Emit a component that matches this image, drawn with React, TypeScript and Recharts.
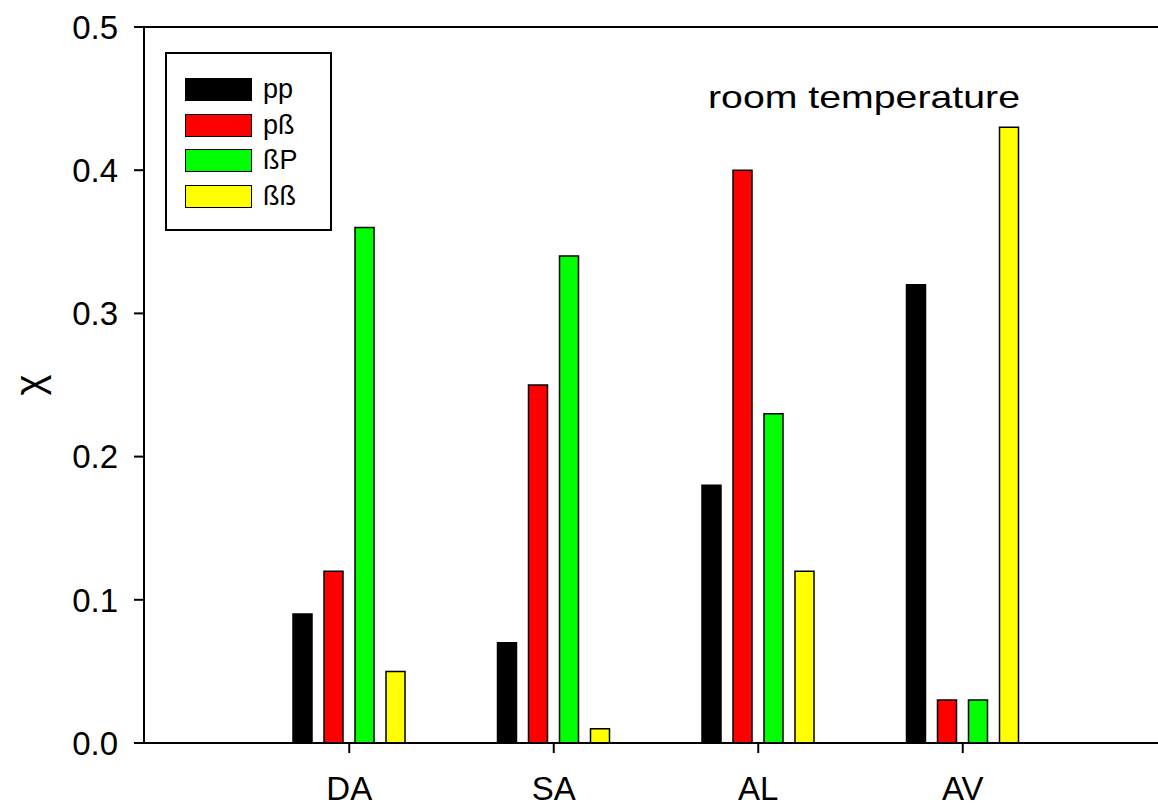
import { BarChart, Bar, XAxis, YAxis, ReferenceLine } from "recharts";

const categories = ["DA", "SA", "AL", "AV"];
const ppValues = [0.09, 0.07, 0.18, 0.32];
const pbValues = [0.12, 0.25, 0.4, 0.03];
const bPValues = [0.36, 0.34, 0.23, 0.03];
const bbValues = [0.05, 0.01, 0.12, 0.43];
const yTicks = [0, 0.1, 0.2, 0.3, 0.4, 0.5];

const data = categories.map((name, i) => ({
  name,
  pp: ppValues[i],
  pb: pbValues[i],
  bP: bPValues[i],
  bb: bbValues[i],
}));

const FONT = "'Liberation Sans', Arial, sans-serif";

const series = [
  { key: "pp", label: "pp", color: "#000000" },
  { key: "pb", label: "pß", color: "#ff0000" },
  { key: "bP", label: "ßP", color: "#00ff00" },
  { key: "bb", label: "ßß", color: "#ffff00" },
];

function LegendBox() {
  return (
    <div
      style={{
        position: "absolute",
        left: 165,
        top: 52,
        width: 167,
        height: 179,
        border: "2px solid #000",
        boxSizing: "border-box",
        paddingTop: 18,
        paddingLeft: 18,
        fontFamily: FONT,
        fontSize: 27,
        color: "#000",
        background: "#fff",
      }}
    >
      {series.map((s) => (
        <div key={s.key} style={{ display: "flex", alignItems: "center", height: 35.5 }}>
          <div
            style={{
              width: 67,
              height: 23,
              background: s.color,
              border: "1.5px solid #000",
              boxSizing: "border-box",
              marginRight: 11,
            }}
          />
          <span style={{ lineHeight: "23px" }}>{s.label}</span>
        </div>
      ))}
    </div>
  );
}

export default function App() {
  return (
    <div style={{ position: "absolute", left: 0, top: 0, width: 1158, height: 806, background: "#fff" }}>
      <BarChart
        width={1158}
        height={806}
        data={data}
        margin={{ top: 27, right: 0, bottom: 0, left: 0 }}
        barSize={19}
        barGap={12}
      >
        <XAxis
          dataKey="name"
          height={63}
          padding={{ left: 103, right: 93 }}
          axisLine={{ stroke: "#000", strokeWidth: 2 }}
          tickLine={{ stroke: "#000", strokeWidth: 2 }}
          tickSize={10}
          tickMargin={24}
          tick={{ fill: "#000", fontSize: 33, fontFamily: FONT }}
        />
        <YAxis
          width={144}
          domain={[0, 0.5]}
          ticks={yTicks}
          tickFormatter={(v: number) => v.toFixed(1)}
          axisLine={{ stroke: "#000", strokeWidth: 2 }}
          tickLine={{ stroke: "#000", strokeWidth: 2 }}
          tickSize={10}
          tickMargin={16}
          tick={{ fill: "#000", fontSize: 33, fontFamily: FONT }}
          label={({ viewBox }: any) => (
            <text
              x={29}
              y={viewBox.y + viewBox.height / 2}
              transform={`rotate(-90, 29, ${viewBox.y + viewBox.height / 2})`}
              textAnchor="middle"
              dominantBaseline="central"
              fontSize={40}
              fontFamily={FONT}
              fill="#000"
            >
              χ
            </text>
          )}
        />
        <ReferenceLine y={0.5} stroke="#000" strokeWidth={2} />
        {series.map((s) => (
          <Bar
            key={s.key}
            dataKey={s.key}
            name={s.label}
            fill={s.color}
            stroke="#000"
            strokeWidth={1.5}
            isAnimationActive={false}
          />
        ))}
      </BarChart>
      <LegendBox />
      <svg
        width={400}
        height={60}
        style={{ position: "absolute", left: 700, top: 70, pointerEvents: "none" }}
      >
        <text
          x={8}
          y={38}
          fontSize={32}
          fontFamily={FONT}
          fill="#000"
          textLength={312}
          lengthAdjust="spacingAndGlyphs"
        >
          room temperature
        </text>
      </svg>
    </div>
  );
}
